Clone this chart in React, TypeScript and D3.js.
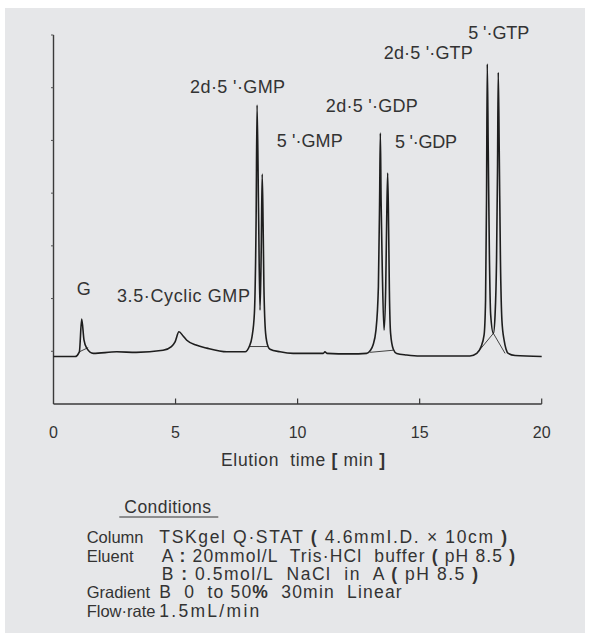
import React from "react";
import * as d3 from "d3";

// ---- data ----
const xTicks = [0, 5, 10, 15, 20];
const yTicks = [0, 1, 2, 3, 4, 5, 6];

const traceTime = [
  0, 0.88, 1.06, 1.155, 1.25, 1.36, 1.63, 2.59, 3.39, 4.49, 4.83, 4.98, 5.14, 5.31, 5.46, 5.84, 6.28, 7.1, 7.85,
  8.02, 8.13, 8.23, 8.3, 8.34, 8.4, 8.46, 8.51, 8.55, 8.59, 8.62, 8.69, 8.79, 8.87, 9.28, 9.82,
  11.05, 11.12, 11.2, 12.15, 12.83, 12.97, 13.09, 13.21, 13.31, 13.36, 13.39, 13.42, 13.47, 13.54, 13.61, 13.65,
  13.69, 13.73, 13.76, 13.81, 13.92, 14.06, 14.47, 15.01, 17.06, 17.34, 17.51, 17.64, 17.7, 17.74, 17.77, 17.81,
  17.86, 17.91, 18.02, 18.09, 18.15, 18.19, 18.22, 18.26, 18.31, 18.37, 18.46, 18.54, 18.63, 18.91, 20,
];
const traceSignal = [
  -0.1, -0.1, -0.01, 0.61, 0.21, 0.06, -0.04, -0.01, -0.02, 0.02, 0.09, 0.18, 0.37, 0.29, 0.21, 0.12, 0.06, -0.01, -0.01,
  0.09, 0.27, 0.72, 2.49, 4.67, 2.68, 0.78, 1.92, 3.36, 2.3, 1.23, 0.34, 0.09, 0.04, -0.01, -0.04,
  -0.04, -0.01, -0.04, -0.05, -0.04, 0.01, 0.12, 0.4, 1.23, 2.87, 4.14, 2.87, 1.54, 0.4, 1.23, 2.5,
  3.38, 2.3, 1.16, 0.34, 0.04, -0.04, -0.07, -0.09, -0.09, -0.04, 0.08, 0.31, 0.97, 2.87, 5.45, 3.82,
  1.73, 0.69, 0.34, 0.69, 1.73, 3.44, 5.29, 3.82, 1.73, 0.59, 0.21, 0.04, -0.04, -0.08, -0.1,
];

// baseline / drop segments under peaks: [t1, v1, t2, v2]
const baselineSegments = [
  [1.06, -0.01, 1.42, 0.07],
  [8.02, 0.09, 8.78, 0.09],
  [12.97, -0.02, 13.92, 0.02],
  [17.34, -0.04, 18.02, 0.34],
  [18.02, 0.34, 18.5, -0.04],
];

const peakNames = ["G", "3.5·Cyclic GMP", "2d·5 '·GMP", "5 '·GMP", "2d·5 '·GDP", "5 '·GDP", "2d·5 '·GTP", "5 '·GTP"];
const peakTimes = [1.155, 5.14, 8.34, 8.55, 13.39, 13.69, 17.77, 18.22];

const xTitle = "Elution  time [ min ]";
const conditionsTitle = "Conditions";
const conditionKeys = ["Column", "Eluent", "", "Gradient", "Flow·rate"];
const conditionValues = [
  "TSKgel Q·STAT ( 4.6mmI.D. × 10cm )",
  "A : 20mmol/L  Tris·HCl  buffer ( pH 8.5 )",
  "B : 0.5mol/L  NaCl  in  A ( pH 8.5 )",
  "B  0  to 50%  30min  Linear",
  "1.5mL/min",
];

// ---- layout ----
const W = 590;
const H = 638;
const X0 = 53.5;
const X1 = 541.7;
const YB = 404;
const YT = 35;
const FONT = "'Liberation Sans', Arial, Helvetica, sans-serif";
const TXT = "#333333";

// label layout relative to the peak (px): dx of left edge, baseline y, text width
const labelLayout = [
  { dx: -5, y: 295, w: 0 },
  { dx: -62, y: 301.7, w: 133 },
  { dx: -67, y: 92.7, w: 95 },
  { dx: 14.5, y: 146.7, w: 66 },
  { dx: -54.5, y: 111.7, w: 92 },
  { dx: 7.3, y: 148.3, w: 62 },
  { dx: -103.5, y: 59.3, w: 89 },
  { dx: -30, y: 39.3, w: 61 },
];
const valueWidths = [347.7, 353.3, 316.3, 242.4, 100];

function renderBold(s: string, key: string) {
  const parts: React.ReactNode[] = [];
  let buf = "";
  let k = 0;
  for (const ch of s) {
    if ("()[]%:".includes(ch)) {
      if (buf) parts.push(buf);
      buf = "";
      parts.push(
        <tspan key={key + k++} fontWeight="bold">
          {ch}
        </tspan>
      );
    } else buf += ch;
  }
  if (buf) parts.push(buf);
  return parts;
}

export default function App() {
  const x = d3.scaleLinear().domain([0, 20]).range([X0, X1]);
  const y = d3.scaleLinear().domain([-1, 6]).range([YB, YT]);

  const pts: [number, number][] = traceTime.map((t, i) => [t, traceSignal[i]]);
  const line = d3
    .line<[number, number]>()
    .x((d) => x(d[0]))
    .y((d) => y(d[1]))
    .curve(d3.curveMonotoneX);

  return (
    <svg
      width={W}
      height={H}
      style={{ position: "absolute", left: 0, top: 0, display: "block" }}
      fontFamily={FONT}
    >
      <rect x={0} y={0} width={W} height={H} fill="#ffffff" />
      <rect x={5} y={8} width={580} height={625} fill="#e6e7e9" />

      {/* axes */}
      <line x1={X0} x2={X0} y1={YT} y2={YB} stroke="#3a3a3a" strokeWidth={1.4} />
      <line x1={X0} x2={X1} y1={YB} y2={YB} stroke="#3a3a3a" strokeWidth={1.4} />
      {yTicks.map((v) => (
        <line key={"yt" + v} x1={X0 - 2.5} x2={X0} y1={y(v)} y2={y(v)} stroke="#555" strokeWidth={1} />
      ))}
      {xTicks.map((t) => (
        <g key={"xt" + t}>
          {t > 0 && <line x1={x(t)} x2={x(t)} y1={YB} y2={YB - 5.5} stroke="#3a3a3a" strokeWidth={1.2} />}
          <text x={x(t)} y={438.3} textAnchor="middle" fontSize={16} fill={TXT}>
            {t}
          </text>
        </g>
      ))}
      <text
        x={221}
        y={466}
        fontSize={17.5}
        fill={TXT}
        style={{ whiteSpace: "pre" }}
        textLength={164}
        lengthAdjust="spacing"
      >
        {renderBold(xTitle, "xt")}
      </text>

      {/* baseline segments */}
      {baselineSegments.map((s, i) => (
        <line
          key={"bs" + i}
          x1={x(s[0])}
          y1={y(s[1])}
          x2={x(s[2])}
          y2={y(s[3])}
          stroke="#444"
          strokeWidth={1}
        />
      ))}

      {/* trace */}
      <path d={line(pts) || ""} fill="none" stroke="#1e1e1e" strokeWidth={1.6} strokeLinejoin="round" />

      {/* peak labels */}
      {peakNames.map((n, i) => (
        <text
          key={"pl" + i}
          x={x(peakTimes[i]) + labelLayout[i].dx}
          y={labelLayout[i].y}
          fontSize={18}
          fill={TXT}
          style={{ whiteSpace: "pre" }}
          {...(labelLayout[i].w ? { textLength: labelLayout[i].w, lengthAdjust: "spacing" } : {})}
        >
          {n}
        </text>
      ))}

      {/* conditions */}
      <text x={124.3} y={513.3} fontSize={17.5} fill={TXT} textLength={86.7} lengthAdjust="spacing">
        {conditionsTitle}
      </text>
      <line x1={119.3} x2={218.3} y1={517} y2={517} stroke={TXT} strokeWidth={1} />
      {conditionKeys.map((k, i) => (
        <g key={"c" + i}>
          {k && (
            <text x={86.7} y={543.3 + i * 18.35} fontSize={16.5} fill={TXT}>
              {k}
            </text>
          )}
          <text
            x={i === 1 || i === 2 ? 161.7 : 159.3}
            y={543.3 + i * 18.35}
            fontSize={17.5}
            fill={TXT}
            style={{ whiteSpace: "pre" }}
            textLength={valueWidths[i]}
            lengthAdjust="spacing"
          >
            {renderBold(conditionValues[i], "cv" + i)}
          </text>
        </g>
      ))}
    </svg>
  );
}
